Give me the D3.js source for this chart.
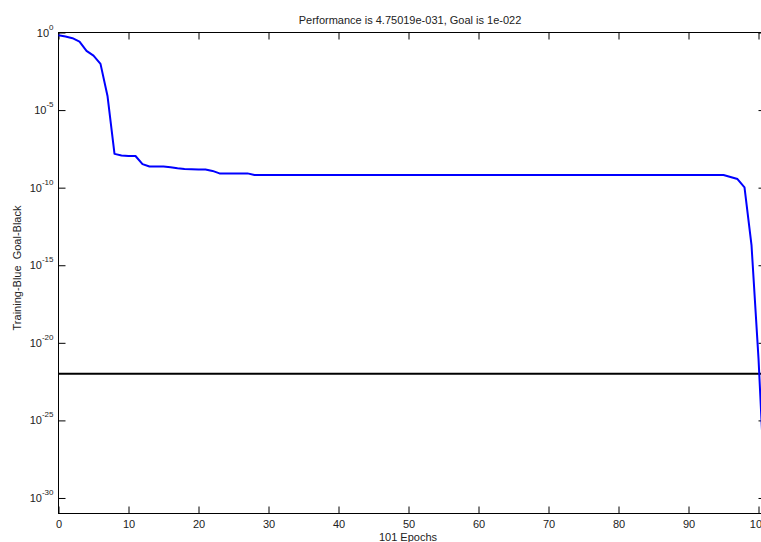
<!DOCTYPE html>
<html lang="en">
<head>
<meta charset="utf-8">
<title>Performance</title>
<script src="https://d3js.org/d3.v7.min.js"></script>
<style>
  body { margin: 0; background: #fff; }
  text { font-family: "Liberation Sans", Arial, sans-serif; fill: #222; }
</style>
</head>
<body>
<script>

// training performance per epoch (epoch 0 .. 101)
var perf = [
  0.66, 0.56, 0.43, 0.26, 0.066, 0.032, 0.0095, 8.1e-5, 1.5e-8, 1.2e-8,
  1.1e-8, 1.1e-8, 3.3e-9, 2.3e-9, 2.3e-9, 2.3e-9, 2.1e-9, 1.8e-9, 1.6e-9, 1.55e-9,
  1.5e-9, 1.5e-9, 1.2e-9, 8.3e-10, 8.3e-10, 8.3e-10, 8.3e-10, 8.3e-10, 6.5e-10, 6.5e-10,
  6.5e-10, 6.5e-10, 6.5e-10, 6.5e-10, 6.5e-10, 6.5e-10, 6.5e-10, 6.5e-10, 6.5e-10, 6.5e-10,
  6.5e-10, 6.5e-10, 6.5e-10, 6.5e-10, 6.5e-10, 6.5e-10, 6.5e-10, 6.5e-10, 6.5e-10, 6.5e-10,
  6.5e-10, 6.5e-10, 6.5e-10, 6.5e-10, 6.5e-10, 6.5e-10, 6.5e-10, 6.5e-10, 6.5e-10, 6.5e-10,
  6.5e-10, 6.5e-10, 6.5e-10, 6.5e-10, 6.5e-10, 6.5e-10, 6.5e-10, 6.5e-10, 6.5e-10, 6.5e-10,
  6.5e-10, 6.5e-10, 6.5e-10, 6.5e-10, 6.5e-10, 6.5e-10, 6.5e-10, 6.5e-10, 6.5e-10, 6.5e-10,
  6.5e-10, 6.5e-10, 6.5e-10, 6.5e-10, 6.5e-10, 6.5e-10, 6.5e-10, 6.5e-10, 6.5e-10, 6.5e-10,
  6.5e-10, 6.5e-10, 6.5e-10, 6.5e-10, 6.5e-10, 6.5e-10, 4.9e-10, 3.6e-10, 1.05e-10, 2e-14,
  1e-21, 4.75019e-31
];
var epochs = perf.map(function(d, i) { return i; });
var goal = 1e-22;
var goalEpochs = [0, 101];

var xTicks = [0, 10, 20, 30, 40, 50, 60, 70, 80, 90, 100];
var yExps = [0, -5, -10, -15, -20, -25, -30];

var titleText = "Performance is 4.75019e-031, Goal is 1e-022";
var xLabel = "101 Epochs";
var yLabel = "Training-Blue  Goal-Black";

var width = 761, height = 542;

var x = d3.scaleLinear().domain([0, 101]).range([58.5, 765.5]);
var y = d3.scaleLog().domain([1e-31, 1]).range([513.5, 32.5]);

var svg = d3.select("body").append("svg")
    .attr("width", width)
    .attr("height", height);

// frame
svg.append("rect")
    .attr("x", x(0)).attr("y", y(1))
    .attr("width", x(101) - x(0))
    .attr("height", y(1e-31) - y(1))
    .attr("fill", "none")
    .attr("stroke", "#000")
    .attr("stroke-width", 1);

// bottom axis, ticks pointing in
var gx = svg.append("g")
    .attr("transform", "translate(0," + y(1e-31) + ")")
    .call(d3.axisBottom(x).tickValues(xTicks).tickSize(-7).tickPadding(7).tickSizeOuter(0));
gx.select(".domain").remove();
gx.selectAll("text").style("font-size", "11px").attr("fill", "#222");

// top axis ticks
var gxt = svg.append("g")
    .attr("transform", "translate(0," + y(1) + ")")
    .call(d3.axisTop(x).tickValues(xTicks).tickSize(-7).tickFormat("").tickSizeOuter(0));
gxt.select(".domain").remove();

// left axis
var yTickVals = yExps.map(function(e) { return Math.pow(10, e); });
var gy = svg.append("g")
    .attr("transform", "translate(" + x(0) + ",0)")
    .call(d3.axisLeft(y).tickValues(yTickVals).tickSize(-7).tickPadding(5).tickSizeOuter(0));
gy.select(".domain").remove();
gy.selectAll(".tick text")
    .style("font-size", "11px")
    .attr("fill", "#222")
    .each(function(d, i) {
        var t = d3.select(this);
        t.text("10");
        t.append("tspan")
            .attr("dy", "-7")
            .style("font-size", "8px")
            .text(yExps[i]);
    });

// right axis ticks
var gyr = svg.append("g")
    .attr("transform", "translate(" + x(101) + ",0)")
    .call(d3.axisRight(y).tickValues(yTickVals).tickSize(-7).tickFormat("").tickSizeOuter(0));
gyr.select(".domain").remove();

// goal line
var line = d3.line()
    .x(function(d) { return x(d[0]); })
    .y(function(d) { return y(d[1]); });

svg.append("path")
    .datum(goalEpochs.map(function(e) { return [e, goal]; }))
    .attr("d", line)
    .attr("fill", "none")
    .attr("stroke", "#000")
    .attr("stroke-width", 2);

// training curve
svg.append("path")
    .datum(epochs.map(function(e, i) { return [e, perf[i]]; }))
    .attr("d", line)
    .attr("fill", "none")
    .attr("stroke", "#0000ff")
    .attr("stroke-width", 2)
    .attr("stroke-linejoin", "round");

// labels
svg.append("text")
    .attr("x", 410).attr("y", 24)
    .attr("text-anchor", "middle")
    .style("font-size", "11px")
    .text(titleText);

svg.append("text")
    .attr("x", 408).attr("y", 541)
    .attr("text-anchor", "middle")
    .style("font-size", "11px")
    .text(xLabel);

svg.append("text")
    .attr("transform", "translate(21,268) rotate(-90)")
    .attr("text-anchor", "middle")
    .style("font-size", "11px")
    .style("white-space", "pre")
    .text(yLabel);

</script>
</body>
</html>
